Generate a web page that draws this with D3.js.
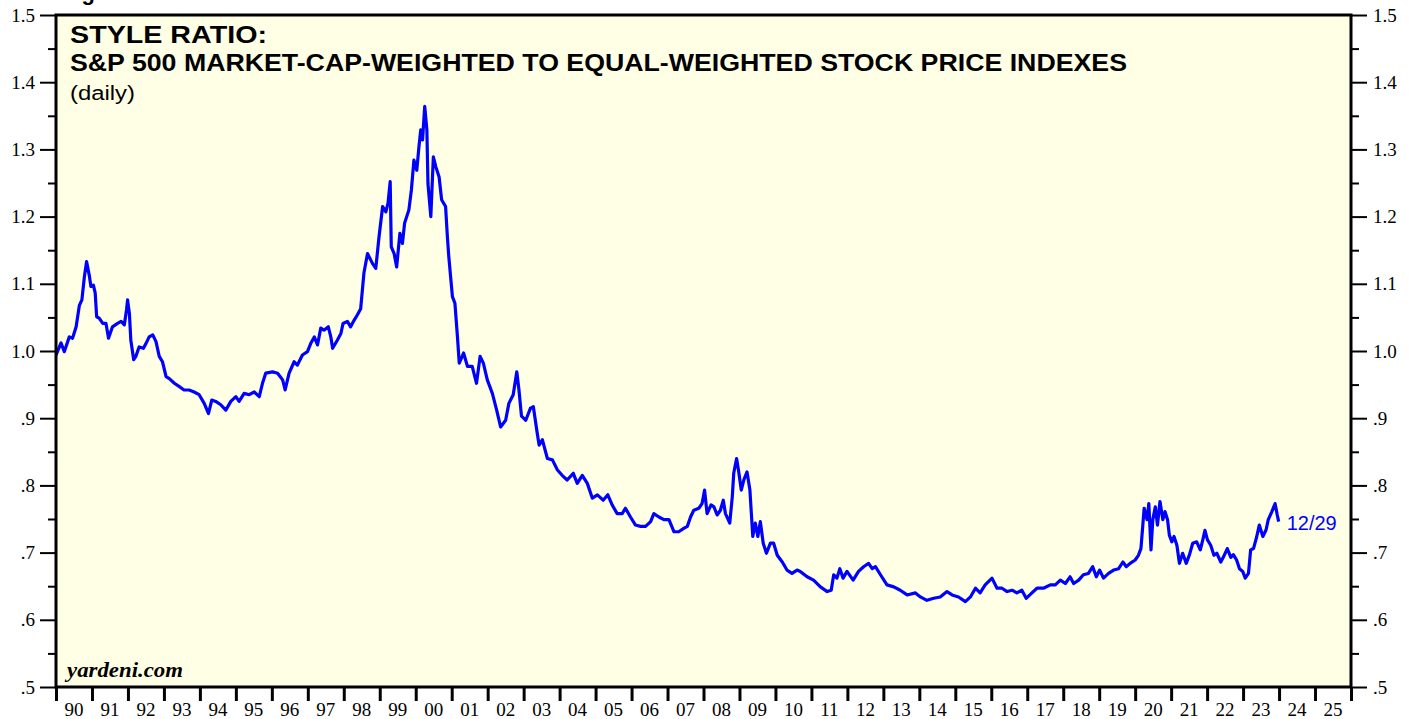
<!DOCTYPE html>
<html>
<head>
<meta charset="utf-8">
<script src="https://cdn.jsdelivr.net/npm/d3@7"></script>
<style>
  body { margin: 0; background: #fff; }
  svg { display: block; }
</style>
</head>
<body>
<svg id="chart" width="1417" height="719"></svg>
<script>
const width = 1417, height = 719;

// decimal year of each reading, and the ratio
const dates = [
  1990.00, 1990.14, 1990.23, 1990.37, 1990.46, 1990.56, 1990.65, 1990.72, 1990.79, 1990.85,
  1990.93, 1990.97, 1991.04, 1991.09, 1991.13, 1991.20, 1991.30, 1991.39, 1991.46, 1991.57,
  1991.71, 1991.81, 1991.90, 1991.96, 1991.99, 1992.04, 1992.08, 1992.16, 1992.22, 1992.31,
  1992.43, 1992.50, 1992.59, 1992.69, 1992.78, 1992.87, 1992.96, 1993.06, 1993.15, 1993.29,
  1993.43, 1993.56, 1993.70, 1993.84, 1993.98, 1994.12, 1994.24, 1994.33, 1994.44, 1994.58,
  1994.72, 1994.86, 1995.00, 1995.09, 1995.23, 1995.37, 1995.51, 1995.65, 1995.74, 1995.83,
  1996.02, 1996.16, 1996.30, 1996.37, 1996.48, 1996.62, 1996.71, 1996.85, 1996.99, 1997.08,
  1997.18, 1997.27, 1997.36, 1997.45, 1997.57, 1997.64, 1997.69, 1997.82, 1997.92, 1997.98,
  1998.10, 1998.19, 1998.29, 1998.38, 1998.47, 1998.56, 1998.66, 1998.80, 1998.89, 1998.98,
  1999.08, 1999.17, 1999.23, 1999.29, 1999.32, 1999.40, 1999.47, 1999.56, 1999.63, 1999.69,
  1999.81, 1999.88, 1999.95, 2000.03, 2000.09, 2000.14, 2000.19, 2000.25, 2000.31, 2000.34,
  2000.42, 2000.49, 2000.56, 2000.65, 2000.72, 2000.83, 2000.88, 2000.92, 2001.02, 2001.09,
  2001.16, 2001.21, 2001.33, 2001.44, 2001.57, 2001.69, 2001.79, 2001.88, 2001.99, 2002.13,
  2002.25, 2002.36, 2002.50, 2002.59, 2002.71, 2002.81, 2002.87, 2002.94, 2003.06, 2003.19,
  2003.27, 2003.38, 2003.43, 2003.52, 2003.66, 2003.80, 2003.94, 2004.07, 2004.21, 2004.38,
  2004.49, 2004.63, 2004.77, 2004.91, 2005.05, 2005.21, 2005.34, 2005.46, 2005.60, 2005.74,
  2005.83, 2005.97, 2006.11, 2006.25, 2006.39, 2006.53, 2006.62, 2006.76, 2006.90, 2007.04,
  2007.18, 2007.31, 2007.45, 2007.55, 2007.64, 2007.73, 2007.87, 2007.96, 2008.03, 2008.10,
  2008.21, 2008.29, 2008.38, 2008.47, 2008.55, 2008.61, 2008.73, 2008.80, 2008.84, 2008.92,
  2008.98, 2009.05, 2009.12, 2009.21, 2009.29, 2009.37, 2009.44, 2009.51, 2009.58, 2009.66,
  2009.75, 2009.86, 2009.95, 2010.05, 2010.19, 2010.32, 2010.46, 2010.60, 2010.69, 2010.88,
  2011.06, 2011.25, 2011.44, 2011.55, 2011.62, 2011.71, 2011.79, 2011.88, 2011.99, 2012.16,
  2012.31, 2012.45, 2012.59, 2012.69, 2012.78, 2012.92, 2013.10, 2013.29, 2013.47, 2013.66,
  2013.89, 2014.03, 2014.21, 2014.40, 2014.58, 2014.77, 2014.91, 2015.09, 2015.28, 2015.42,
  2015.56, 2015.69, 2015.83, 2016.02, 2016.16, 2016.30, 2016.44, 2016.58, 2016.71, 2016.85,
  2016.97, 2017.13, 2017.27, 2017.45, 2017.64, 2017.78, 2017.92, 2018.06, 2018.19, 2018.29,
  2018.43, 2018.56, 2018.70, 2018.82, 2018.92, 2019.01, 2019.12, 2019.26, 2019.40, 2019.54,
  2019.66, 2019.75, 2019.86, 2020.00, 2020.09, 2020.16, 2020.21, 2020.25, 2020.33, 2020.38,
  2020.44, 2020.49, 2020.56, 2020.62, 2020.69, 2020.77, 2020.83, 2020.90, 2020.95, 2021.02,
  2021.08, 2021.16, 2021.23, 2021.32, 2021.42, 2021.51, 2021.60, 2021.71, 2021.81, 2021.88,
  2021.94, 2022.01, 2022.10, 2022.19, 2022.27, 2022.38, 2022.45, 2022.56, 2022.66, 2022.73,
  2022.82, 2022.90, 2022.99, 2023.06, 2023.15, 2023.21, 2023.29, 2023.38, 2023.45, 2023.55,
  2023.64, 2023.70, 2023.80, 2023.89, 2023.95, 2023.99
];
const ratio = [
  0.994, 1.012, 0.999, 1.021, 1.019, 1.036, 1.068, 1.076, 1.111, 1.133,
  1.111, 1.096, 1.098, 1.086, 1.051, 1.049, 1.041, 1.041, 1.019, 1.036,
  1.041, 1.044, 1.039, 1.061, 1.076, 1.056, 1.016, 0.987, 0.992, 1.006,
  1.004, 1.011, 1.021, 1.024, 1.014, 0.992, 0.984, 0.962, 0.959, 0.952,
  0.947, 0.942, 0.942, 0.939, 0.935, 0.922, 0.907, 0.927, 0.925, 0.920,
  0.912, 0.925, 0.932, 0.925, 0.937, 0.935, 0.939, 0.932, 0.952, 0.967,
  0.969, 0.967, 0.957, 0.942, 0.967, 0.984, 0.979, 0.994, 0.999, 1.011,
  1.021, 1.009, 1.034, 1.031, 1.036, 1.021, 1.004, 1.016, 1.026, 1.041,
  1.044, 1.036, 1.046, 1.054, 1.063, 1.116, 1.145, 1.130, 1.123, 1.170,
  1.215, 1.207, 1.220, 1.252, 1.155, 1.145, 1.125, 1.175, 1.160, 1.190,
  1.210, 1.240, 1.284, 1.269, 1.304, 1.329, 1.314, 1.364, 1.329, 1.249,
  1.200, 1.289, 1.274, 1.259, 1.225, 1.215, 1.170, 1.140, 1.081, 1.071,
  1.021, 0.982, 0.997, 0.977, 0.977, 0.952, 0.992, 0.982, 0.957, 0.937,
  0.912, 0.887, 0.897, 0.922, 0.935, 0.969, 0.942, 0.903, 0.897, 0.915,
  0.917, 0.877, 0.860, 0.868, 0.840, 0.838, 0.823, 0.815, 0.808, 0.818,
  0.803, 0.815, 0.803, 0.781, 0.786, 0.778, 0.786, 0.771, 0.758, 0.758,
  0.766, 0.753, 0.741, 0.739, 0.739, 0.746, 0.758, 0.753, 0.749, 0.749,
  0.731, 0.731, 0.736, 0.739, 0.753, 0.763, 0.766, 0.773, 0.793, 0.758,
  0.771, 0.768, 0.756, 0.763, 0.778, 0.758, 0.744, 0.783, 0.818, 0.840,
  0.820, 0.793, 0.808, 0.820, 0.793, 0.724, 0.744, 0.724, 0.746, 0.714,
  0.699, 0.714, 0.714, 0.696, 0.686, 0.674, 0.669, 0.674, 0.672, 0.664,
  0.659, 0.649, 0.642, 0.644, 0.667, 0.662, 0.676, 0.662, 0.672, 0.659,
  0.672, 0.679, 0.684, 0.676, 0.679, 0.667, 0.652, 0.649, 0.644, 0.637,
  0.640, 0.634, 0.629, 0.632, 0.634, 0.642, 0.637, 0.634, 0.627, 0.634,
  0.647, 0.640, 0.652, 0.662, 0.647, 0.647, 0.642, 0.644, 0.640, 0.644,
  0.632, 0.640, 0.647, 0.647, 0.652, 0.652, 0.659, 0.654, 0.664, 0.654,
  0.659, 0.667, 0.669, 0.679, 0.664, 0.674, 0.662, 0.669, 0.674, 0.676,
  0.686, 0.679, 0.684, 0.689, 0.696, 0.706, 0.739, 0.766, 0.749, 0.773,
  0.704, 0.749, 0.768, 0.741, 0.776, 0.749, 0.761, 0.749, 0.726, 0.716,
  0.724, 0.711, 0.684, 0.699, 0.684, 0.697, 0.714, 0.716, 0.704, 0.719,
  0.733, 0.719, 0.711, 0.696, 0.699, 0.686, 0.693, 0.706, 0.693, 0.697,
  0.689, 0.676, 0.672, 0.662, 0.669, 0.704, 0.706, 0.724, 0.741, 0.724,
  0.734, 0.749, 0.761, 0.773, 0.756, 0.746
];

const yearLabels = ["90","91","92","93","94","95","96","97","98","99","00","01","02","03","04","05","06","07","08","09","10","11","12","13","14","15","16","17","18","19","20","21","22","23","24","25"];
const yMajor = [0.5, 0.6, 0.7, 0.8, 0.9, 1.0, 1.1, 1.2, 1.3, 1.4, 1.5];
const yMinor = [0.55, 0.65, 0.75, 0.85, 0.95, 1.05, 1.15, 1.25, 1.35, 1.45];
const lastLabel = "12/29";

const plotL = 56, plotR = 1351, plotT = 15, plotB = 687;

const x = d3.scaleLinear().domain([1990, 2026]).range([plotL, plotR]);
const y = d3.scaleLinear().domain([0.5, 1.5]).range([plotB, plotT]);

const svg = d3.select('#chart');

svg.append("defs").append("clipPath").attr("id", "plotclip")
  .append("rect").attr("x", plotL).attr("y", plotT)
  .attr("width", plotR - plotL).attr("height", plotB - plotT);

// plot background
svg.append("rect")
  .attr("x", plotL).attr("y", plotT)
  .attr("width", plotR - plotL).attr("height", plotB - plotT)
  .attr("fill", "#ffffe6");

const sans = "Liberation Sans, Arial, sans-serif";
const tickFont = "Liberation Serif, Times New Roman, serif";

// figure heading, sits above the top of the page in the original (only the descender shows)
svg.append("text")
  .attr("x", 62).attr("y", 0)
  .attr("font-family", sans)
  .attr("font-weight", "bold").attr("font-size", 22)
  .text("Figure 1.");

// left + right value axes
const yLabel = d => d >= 1 ? d.toFixed(1) : d.toFixed(1).replace(/^0/, "");

const axisL = d3.axisLeft(y).tickValues(yMajor).tickSize(16).tickPadding(5).tickFormat(yLabel);
const axisLminor = d3.axisLeft(y).tickValues(yMinor).tickSize(8).tickFormat("");
const axisR = d3.axisRight(y).tickValues(yMajor).tickSize(16).tickPadding(6).tickFormat(yLabel);
const axisRminor = d3.axisRight(y).tickValues(yMinor).tickSize(8).tickFormat("");

function styleAxis(g) {
  g.select(".domain").remove();
  g.selectAll("line").attr("stroke", "#000").attr("stroke-width", 2);
  g.selectAll("text").attr("font-family", tickFont).attr("font-size", 19).attr("fill", "#000");
}

svg.append("g").attr("transform", `translate(${plotL},0)`).call(axisL).call(styleAxis);
svg.append("g").attr("transform", `translate(${plotL},0)`).call(axisLminor).call(styleAxis);
svg.append("g").attr("transform", `translate(${plotR},0)`).call(axisR).call(styleAxis);
svg.append("g").attr("transform", `translate(${plotR},0)`).call(axisRminor).call(styleAxis);

// bottom year axis: ticks at year starts, labels mid-year
const yearStarts = d3.range(1990, 2027);
const axisB = d3.axisBottom(x).tickValues(yearStarts).tickSize(14).tickFormat("");
svg.append("g").attr("transform", `translate(0,${plotB})`).call(axisB)
  .call(g => {
    g.select(".domain").remove();
    g.selectAll("line").attr("stroke", "#000").attr("stroke-width", 3);
  });

svg.append("g").selectAll("text")
  .data(yearLabels)
  .enter()
  .append("text")
  .attr("x", (d, i) => x(1990 + i + 0.5))
  .attr("y", 716)
  .attr("text-anchor", "middle")
  .attr("font-family", tickFont).attr("font-size", 19)
  .text(d => d);

// the ratio line
const line = d3.line()
  .x((d, i) => x(dates[i]))
  .y(d => y(d));

svg.append("path")
  .datum(ratio)
  .attr("clip-path", "url(#plotclip)")
  .attr("fill", "none")
  .attr("stroke", "#0000ff")
  .attr("stroke-width", 3.2)
  .attr("stroke-linejoin", "round")
  .attr("d", line);

// frame
svg.append("path")
  .attr("d", `M${plotL},${plotB}V${plotT}H${plotR}V${plotB}Z`)
  .attr("fill", "none")
  .attr("stroke", "#000")
  .attr("stroke-width", 3);

// titles (original face is wider than Liberation Sans, so stretch to its width)
svg.append("text").attr("x", 70).attr("y", 43)
  .attr("font-family", sans).attr("font-weight", "bold").attr("font-size", 24)
  .attr("textLength", 197).attr("lengthAdjust", "spacingAndGlyphs")
  .text("STYLE RATIO:");
svg.append("text").attr("x", 70).attr("y", 71)
  .attr("font-family", sans).attr("font-weight", "bold").attr("font-size", 24)
  .attr("textLength", 1057).attr("lengthAdjust", "spacingAndGlyphs")
  .text("S&P 500 MARKET-CAP-WEIGHTED TO EQUAL-WEIGHTED STOCK PRICE INDEXES");
svg.append("text").attr("x", 70).attr("y", 100)
  .attr("font-family", sans).attr("font-size", 20)
  .attr("textLength", 65).attr("lengthAdjust", "spacingAndGlyphs")
  .text("(daily)");

svg.append("text").attr("x", 67).attr("y", 677)
  .attr("font-family", tickFont).attr("font-weight", "bold").attr("font-style", "italic")
  .attr("font-size", 22)
  .attr("textLength", 116).attr("lengthAdjust", "spacingAndGlyphs")
  .text("yardeni.com");

// last-value tag
svg.append("text")
  .attr("x", x(dates[dates.length - 1]) + 8)
  .attr("y", 530)
  .attr("font-family", sans).attr("font-size", 20)
  .attr("fill", "#0000ff")
  .text(lastLabel);
</script>
</body>
</html>
